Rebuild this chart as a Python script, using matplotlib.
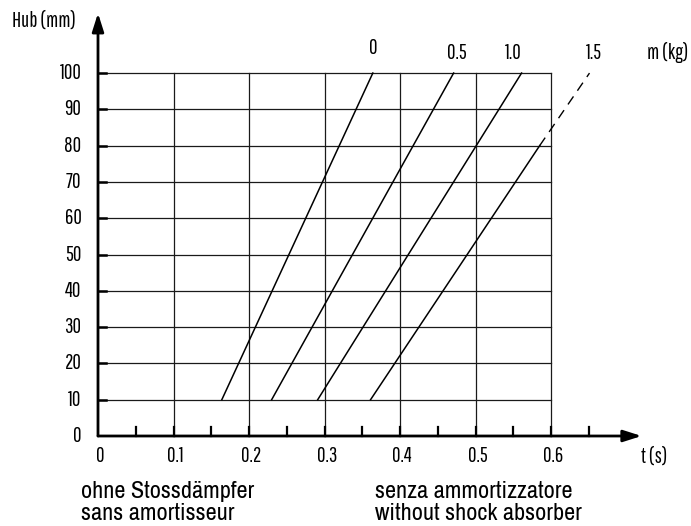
import matplotlib
matplotlib.use('Agg')
import matplotlib.pyplot as plt

# Hub (mm) over t (s) for different masses, without shock absorber
hub_ticks = [0, 10, 20, 30, 40, 50, 60, 70, 80, 90, 100]
t_ticks = [0, 0.1, 0.2, 0.3, 0.4, 0.5, 0.6]
t_ticklabels = ['0', '0.1', '0.2', '0.3', '0.4', '0.5', '0.6']

masses = ['0', '0.5', '1.0', '1.5']
# solid part of each curve
t_solid = [[0.164, 0.364], [0.230, 0.471], [0.291, 0.561], [0.361, 0.585]]
hub_solid = [[10, 100], [10, 100], [10, 100], [10, 80]]
# dashed continuation (only 1.5 kg)
t_dashed = [0.585, 0.651]
hub_dashed = [80, 100]

tick_font = ['Pathway Gothic One', 'DejaVu Sans']
cap_font = ['Archivo Narrow', 'DejaVu Sans']
plt.rcParams['font.family'] = tick_font
fs = 15

fig = plt.figure(figsize=(6.91, 5.26), dpi=100)
ax = fig.add_axes([98 / 691, 1 - 436 / 526, 528.5 / 691, 421 / 526])
ax.set_xlim(0, 0.7)
ax.set_ylim(0, 116)
ax.axis('off')

# grid
for y in hub_ticks[1:]:
    ax.plot([0, 0.6], [y, y], color='#1a1a1a', lw=0.9, clip_on=False)
for x in t_ticks[1:]:
    ax.plot([x, x], [0, 100], color='#1a1a1a', lw=0.9, clip_on=False)

# axes with arrows
ax.annotate('', xy=(0.72, 0), xytext=(0, 0),
            arrowprops=dict(arrowstyle='-|>,head_length=1.1,head_width=0.35',
                            color='black', lw=2, shrinkA=0, shrinkB=0),
            annotation_clip=False)
ax.annotate('', xy=(0, 116.5), xytext=(0, 0),
            arrowprops=dict(arrowstyle='-|>,head_length=1.1,head_width=0.35',
                            color='black', lw=2, shrinkA=0, shrinkB=0),
            annotation_clip=False)

# small ticks
for i in range(1, 14):
    x = i * 0.05
    ax.plot([x, x], [0, 2.4], color='black', lw=1.6, clip_on=False)
for y in hub_ticks[1:]:
    ax.plot([0, 0.011], [y, y], color='black', lw=1.8, clip_on=False)

# tick labels
for y in hub_ticks:
    ax.text(-0.022, y, str(y), ha='right', va='center', fontsize=fs)
for x, lab in zip(t_ticks, t_ticklabels):
    ax.text(x + 0.003, -5.6, lab, ha='center', va='center', fontsize=fs)
ax.text(0.737, -5.6, 't (s)', ha='center', va='center', fontsize=fs)
ax.text(-0.114, 114.5, 'Hub (mm)', ha='left', va='center', fontsize=fs)

# curves
for ts, hs in zip(t_solid, hub_solid):
    ax.plot(ts, hs, color='black', lw=1.1, clip_on=False)
ax.plot(t_dashed, hub_dashed, color='black', lw=1.0, dashes=(7, 5), clip_on=False)

# mass labels
label_x = [0.365, 0.475, 0.550, 0.657]
label_y = [106.9, 105.6, 105.6, 105.6]
for m, lx, ly in zip(masses, label_x, label_y):
    ax.text(lx, ly, m, ha='center', va='center', fontsize=fs)
ax.text(0.755, 105.6, 'm (kg)', ha='center', va='center', fontsize=fs)

# captions
cap = dict(ha='left', va='baseline', fontsize=17.5, family=cap_font)
fig.text(81 / 691, 1 - 498 / 526, 'ohne Stossdämpfer', **cap)
fig.text(81 / 691, 1 - 520 / 526, 'sans amortisseur', **cap)
fig.text(375 / 691, 1 - 498 / 526, 'senza ammortizzatore', **cap)
fig.text(375 / 691, 1 - 520 / 526, 'without shock absorber', **cap)

fig.savefig('out.png', dpi=100)
